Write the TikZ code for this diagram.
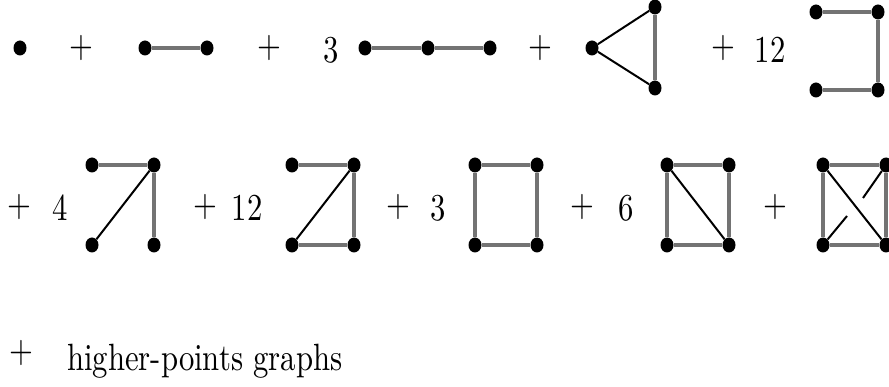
\documentclass[tikz,border=0pt]{standalone}
\usetikzlibrary{shapes.geometric}
\begin{document}
\begin{tikzpicture}[x=1pt,y=-1pt,
  dot/.style={ellipse,fill=black,draw=none,inner sep=0pt,minimum width=13pt,minimum height=15pt},
  ge/.style={draw=black!55,line width=3.2pt},
  be/.style={draw=black,line width=2pt},
  lab/.style={inner sep=0pt,font=\fontsize{10}{12}\selectfont}]
\useasboundingbox (0,0) rectangle (889,387);
\newcommand{\tall}[1]{\scalebox{3.07}[3.8]{#1}}
% row 1
\node[dot] (p1) at (20,48) {};
\node[lab] (pl1) at (81,48) {\tall{$+$}};
\node[dot] (e1) at (145,48) {};
\node[dot] (e2) at (207,48) {};
\draw[ge] (e1) -- (e2);
\node[lab] (pl2) at (269,48) {\tall{$+$}};
\node[lab] (n3a) at (331,50) {\tall{3}};
\node[dot] (c1) at (365,48) {};
\node[dot] (c2) at (428,48) {};
\node[dot] (c3) at (490,48) {};
\draw[ge] (c1) -- (c2) -- (c3);
\node[lab] (pl3) at (540,48) {\tall{$+$}};
\node[dot] (t1) at (592,48) {};
\node[dot] (t2) at (655,7) {};
\node[dot] (t3) at (655,88) {};
\draw[be] (t2) -- (t1) -- (t3);
\draw[ge] (t2) -- (t3);
\node[lab] (pl4) at (723,48) {\tall{$+$}};
\node[lab] (n12a) at (770,50) {\tall{12}};
\node[dot] (u1) at (816,12) {};
\node[dot] (u2) at (878,12) {};
\node[dot] (u3) at (878,90) {};
\node[dot] (u4) at (816,90) {};
\draw[ge] (u1) -- (u2) -- (u3) -- (u4);
% row 2
\node[lab] (pl5) at (19,207) {\tall{$+$}};
\node[lab] (n4) at (60,208) {\tall{4}};
\node[dot] (a1) at (92,165) {};
\node[dot] (a2) at (154,165) {};
\node[dot] (a3) at (92,245) {};
\node[dot] (a4) at (154,245) {};
\draw[ge] (a1) -- (a2) -- (a4);
\draw[be] (a2) -- (a3);
\node[lab] (pl6) at (205,207) {\tall{$+$}};
\node[lab] (n12b) at (247,208) {\tall{12}};
\node[dot] (b1) at (292,165) {};
\node[dot] (b2) at (354,165) {};
\node[dot] (b3) at (292,245) {};
\node[dot] (b4) at (354,245) {};
\draw[ge] (b1) -- (b2) -- (b4) -- (b3);
\draw[be] (b3) -- (b2);
\node[lab] (pl7) at (398,207) {\tall{$+$}};
\node[lab] (n3b) at (438,208) {\tall{3}};
\node[dot] (s1) at (475,165) {};
\node[dot] (s2) at (537,165) {};
\node[dot] (s3) at (475,245) {};
\node[dot] (s4) at (537,245) {};
\draw[ge] (s1) -- (s2) -- (s4) -- (s3) -- (s1);
\node[lab] (pl8) at (582,207) {\tall{$+$}};
\node[lab] (n6) at (626,208) {\tall{6}};
\node[dot] (d1) at (667,165) {};
\node[dot] (d2) at (729,165) {};
\node[dot] (d3) at (667,245) {};
\node[dot] (d4) at (729,245) {};
\draw[ge] (d1) -- (d2) -- (d4) -- (d3) -- (d1);
\draw[be] (d1) -- (d4);
\node[lab] (pl9) at (775,207) {\tall{$+$}};
\node[dot] (k1) at (823,165) {};
\node[dot] (k2) at (886,165) {};
\node[dot] (k3) at (823,245) {};
\node[dot] (k4) at (886,245) {};
\draw[ge] (k1) -- (k2) -- (k4) -- (k3) -- (k1);
\draw[be] (k1) -- (k4);
\coordinate (g1) at (847,216);
\coordinate (g2) at (863,198);
\draw[be] (k3) -- (g1);
\draw[be] (g2) -- (k2);
% row 3
\node[lab] (pl10) at (21,353) {\tall{$+$}};
\node[lab,anchor=west] (hp) at (67,361) {\tall{higher-points graphs}};
\end{tikzpicture}
\end{document}
